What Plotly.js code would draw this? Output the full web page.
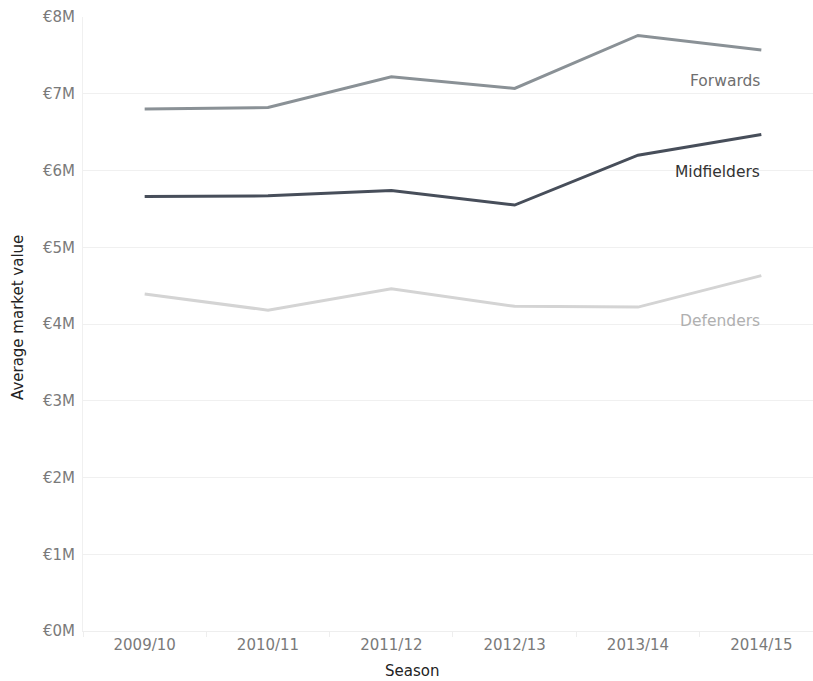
<!DOCTYPE html>
<html>
<head>
<meta charset="utf-8">
<script src="https://cdn.plot.ly/plotly-3.0.1.min.js"></script>
<style>html,body{margin:0;padding:0;overflow:hidden;background:#fff}</style>
</head>
<body>
<div id="chart" style="width:813px;height:681px"></div>
<script>
const seasons = ["2009/10", "2010/11", "2011/12", "2012/13", "2013/14", "2014/15"];
const forwards = [6.80e6, 6.82e6, 7.22e6, 7.07e6, 7.76e6, 7.57e6];
const midfielders = [5.66e6, 5.67e6, 5.74e6, 5.55e6, 6.20e6, 6.47e6];
const defenders = [4.39e6, 4.18e6, 4.46e6, 4.23e6, 4.22e6, 4.63e6];
const seriesNames = ["Forwards", "Midfielders", "Defenders"];
const labelValues = [7.16e6, 5.98e6, 4.04e6];
const yTickVals = [0, 1e6, 2e6, 3e6, 4e6, 5e6, 6e6, 7e6, 8e6];
const yTickLabels = ["€0M", "€1M", "€2M", "€3M", "€4M", "€5M", "€6M", "€7M", "€8M"];
const xTitle = "Season";
const yTitle = "Average market value";

const lineColors = ["#8a9196", "#474e5a", "#d4d4d4"];
const textColors = ["#6f6f6f", "#333333", "#b0b0b0"];
const values = [forwards, midfielders, defenders];
const FONT = "DejaVu Sans, Verdana, sans-serif";

const traces = values.map((v, i) => ({
  type: "scatter",
  mode: "lines",
  x: seasons,
  y: v,
  name: seriesNames[i],
  line: {color: lineColors[i], width: 3},
  hoverinfo: "skip"
}));

const annotations = seriesNames.map((n, i) => ({
  x: seasons[seasons.length - 1],
  y: labelValues[i],
  xref: "x", yref: "y",
  text: n,
  showarrow: false,
  xanchor: "right",
  yanchor: "middle",
  xshift: 1,
  font: {family: FONT, size: 15.5, color: textColors[i]}
}));
annotations.push({
  text: xTitle, xref: "paper", yref: "paper",
  x: (412 - 83) / 730, y: (631 - 681) / 614,
  xanchor: "center", yanchor: "bottom", showarrow: false, borderpad: 0,
  font: {family: FONT, size: 15, color: "#222222"}
});
annotations.push({
  text: yTitle, xref: "paper", yref: "paper",
  x: (18 - 83) / 730, y: (631 - 318) / 614,
  xanchor: "center", yanchor: "middle", showarrow: false, textangle: -90,
  font: {family: FONT, size: 15, color: "#222222"}
});

const layout = {
  width: 813,
  height: 681,
  margin: {l: 83, r: 0, t: 17, b: 50},
  paper_bgcolor: "#ffffff",
  plot_bgcolor: "#ffffff",
  showlegend: false,
  font: {family: FONT, size: 15, color: "#7a7a7a"},
  xaxis: {
    type: "category",
    range: [-0.5, 5.419],
    tickson: "boundaries",
    ticks: "outside",
    ticklen: 5,
    tickcolor: "#eeeeee",
    showgrid: false,
    showline: true,
    linecolor: "#eeeeee",
    linewidth: 1,
    zeroline: false,
    tickfont: {family: FONT, size: 15, color: "#7a7a7a"}
  },
  yaxis: {
    range: [0, 8e6],
    tickvals: yTickVals,
    ticktext: yTickLabels,
    showgrid: true,
    gridcolor: "#f0f0f0",
    gridwidth: 1,
    zeroline: false,
    showline: true,
    linecolor: "#f0f0f0",
    ticks: "",
    ticklabelstandoff: 4,
    tickfont: {family: FONT, size: 15, color: "#7a7a7a"}
  },
  annotations: annotations
};

Plotly.newPlot("chart", traces, layout, {displayModeBar: false, staticPlot: true});
</script>
</body>
</html>
